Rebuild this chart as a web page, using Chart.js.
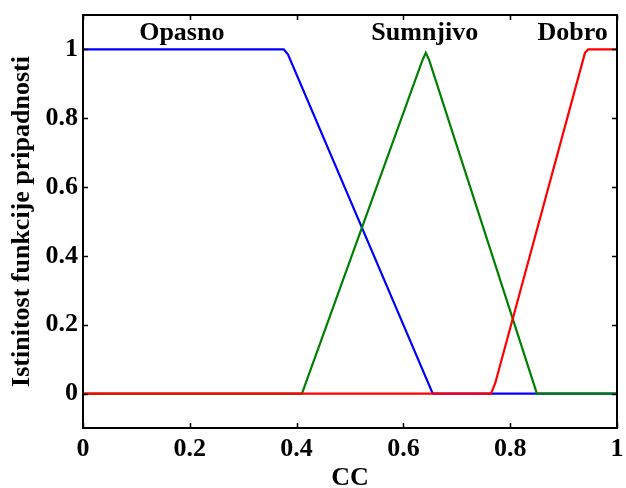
<!DOCTYPE html>
<html>
<head>
<meta charset="utf-8">
<script src="https://cdn.jsdelivr.net/npm/chart.js@4"></script>
<style>
  html, body { margin: 0; padding: 0; background: #fff; }
  #wrap { width: 626px; height: 488px; }
</style>
</head>
<body>
<div id="wrap"><canvas id="mf"></canvas></div>
<script>
// membership functions
const opasnoX = [0, 0.376, 0.384, 0.655, 1];
const opasnoY = [1, 1, 0.985, 0, 0];
const sumnjivoX = [0, 0.41, 0.636, 0.642, 0.648, 0.85, 1];
const sumnjivoY = [0, 0, 0.97, 0.99, 0.97, 0, 0];
const dobroX = [0, 0.764, 0.772, 0.94, 0.946, 1];
const dobroY = [0, 0, 0.03, 0.99, 1, 1];

const xTicks = [0, 0.2, 0.4, 0.6, 0.8, 1];
const yTicks = [0, 0.2, 0.4, 0.6, 0.8, 1];

// set names and where they sit (data coords)
const setNames = ['Opasno', 'Sumnjivo', 'Dobro'];
const setNameX = [0.185, 0.64, 0.917];
const setNameY = [1.047, 1.047, 1.047];

const FONT = "'Liberation Serif', 'Times New Roman', serif";
Chart.defaults.font.family = FONT;
Chart.defaults.font.weight = 'bold';
Chart.defaults.font.size = 26;
Chart.defaults.color = '#000';

function pts(xs, ys) {
    return xs.map(function (x, i) { return { x: x, y: ys[i] }; });
}

// box around the plot + inward tick marks on all four sides (matlab look)
const boxPlugin = {
    id: 'box',
    afterDraw: function (chart) {
        const ctx = chart.ctx;
        const a = chart.chartArea;
        const xs = chart.scales.x, ys = chart.scales.y;
        const len = 5;
        ctx.save();
        ctx.strokeStyle = '#000';
        ctx.lineWidth = 2;
        ctx.strokeRect(a.left, a.top, a.right - a.left, a.bottom - a.top);
        ctx.lineWidth = 1.5;
        ctx.beginPath();
        xTicks.forEach(function (v) {
            const px = Math.round(xs.getPixelForValue(v)) + 0.5;
            ctx.moveTo(px, a.bottom); ctx.lineTo(px, a.bottom - len);
            ctx.moveTo(px, a.top); ctx.lineTo(px, a.top + len);
        });
        yTicks.forEach(function (v) {
            const py = Math.round(ys.getPixelForValue(v)) + 0.5;
            ctx.moveTo(a.left, py); ctx.lineTo(a.left + len, py);
            ctx.moveTo(a.right, py); ctx.lineTo(a.right - len, py);
        });
        ctx.stroke();

        ctx.fillStyle = '#000';
        ctx.font = 'bold 26px ' + FONT;
        ctx.textAlign = 'center';
        ctx.textBaseline = 'middle';
        setNames.forEach(function (name, i) {
            ctx.fillText(name, xs.getPixelForValue(setNameX[i]), ys.getPixelForValue(setNameY[i]));
        });
        ctx.restore();
    }
};

new Chart(document.getElementById('mf'), {
    type: 'line',
    data: {
        datasets: [
            { label: 'Opasno', data: pts(opasnoX, opasnoY), borderColor: '#0000ff', order: 3 },
            { label: 'Sumnjivo', data: pts(sumnjivoX, sumnjivoY), borderColor: '#008000', order: 2 },
            { label: 'Dobro', data: pts(dobroX, dobroY), borderColor: '#ff0000', order: 1 }
        ]
    },
    options: {
        responsive: true,
        maintainAspectRatio: false,
        animation: false,
        layout: { padding: { top: 15, right: 9, left: 0, bottom: 0 } },
        elements: {
            line: { borderWidth: 2.2, tension: 0 },
            point: { radius: 0 }
        },
        plugins: { legend: { display: false }, tooltip: { enabled: false } },
        scales: {
            x: {
                type: 'linear',
                min: 0,
                max: 1,
                afterBuildTicks: function (s) { s.ticks = xTicks.map(function (v) { return { value: v }; }); },
                afterFit: function (s) { s.height = 60; s.paddingLeft = 0; s.paddingRight = 0; },
                grid: { display: false, drawTicks: false },
                border: { display: true, color: '#000', width: 2 },
                ticks: { padding: 6, maxRotation: 0, callback: function (v) { return String(v); } },
                title: { display: true, text: 'CC', padding: { top: 0, bottom: -3 }, font: { size: 26, weight: 'bold', lineHeight: 1 } }
            },
            y: {
                min: -0.1,
                max: 1.1,
                afterBuildTicks: function (s) { s.ticks = yTicks.map(function (v) { return { value: v }; }); },
                afterFit: function (s) { s.width = 83; s.paddingTop = 0; s.paddingBottom = 0; },
                grid: { display: false, drawTicks: false },
                border: { display: true, color: '#000', width: 2 },
                ticks: { padding: 5, callback: function (v) { return String(v); } },
                title: { display: true, text: 'Istinitost funkcije pripadnosti', padding: { top: 7, bottom: 0 }, font: { size: 26, weight: 'bold', lineHeight: 1.2 } }
            }
        }
    },
    plugins: [boxPlugin]
});
</script>
</body>
</html>
